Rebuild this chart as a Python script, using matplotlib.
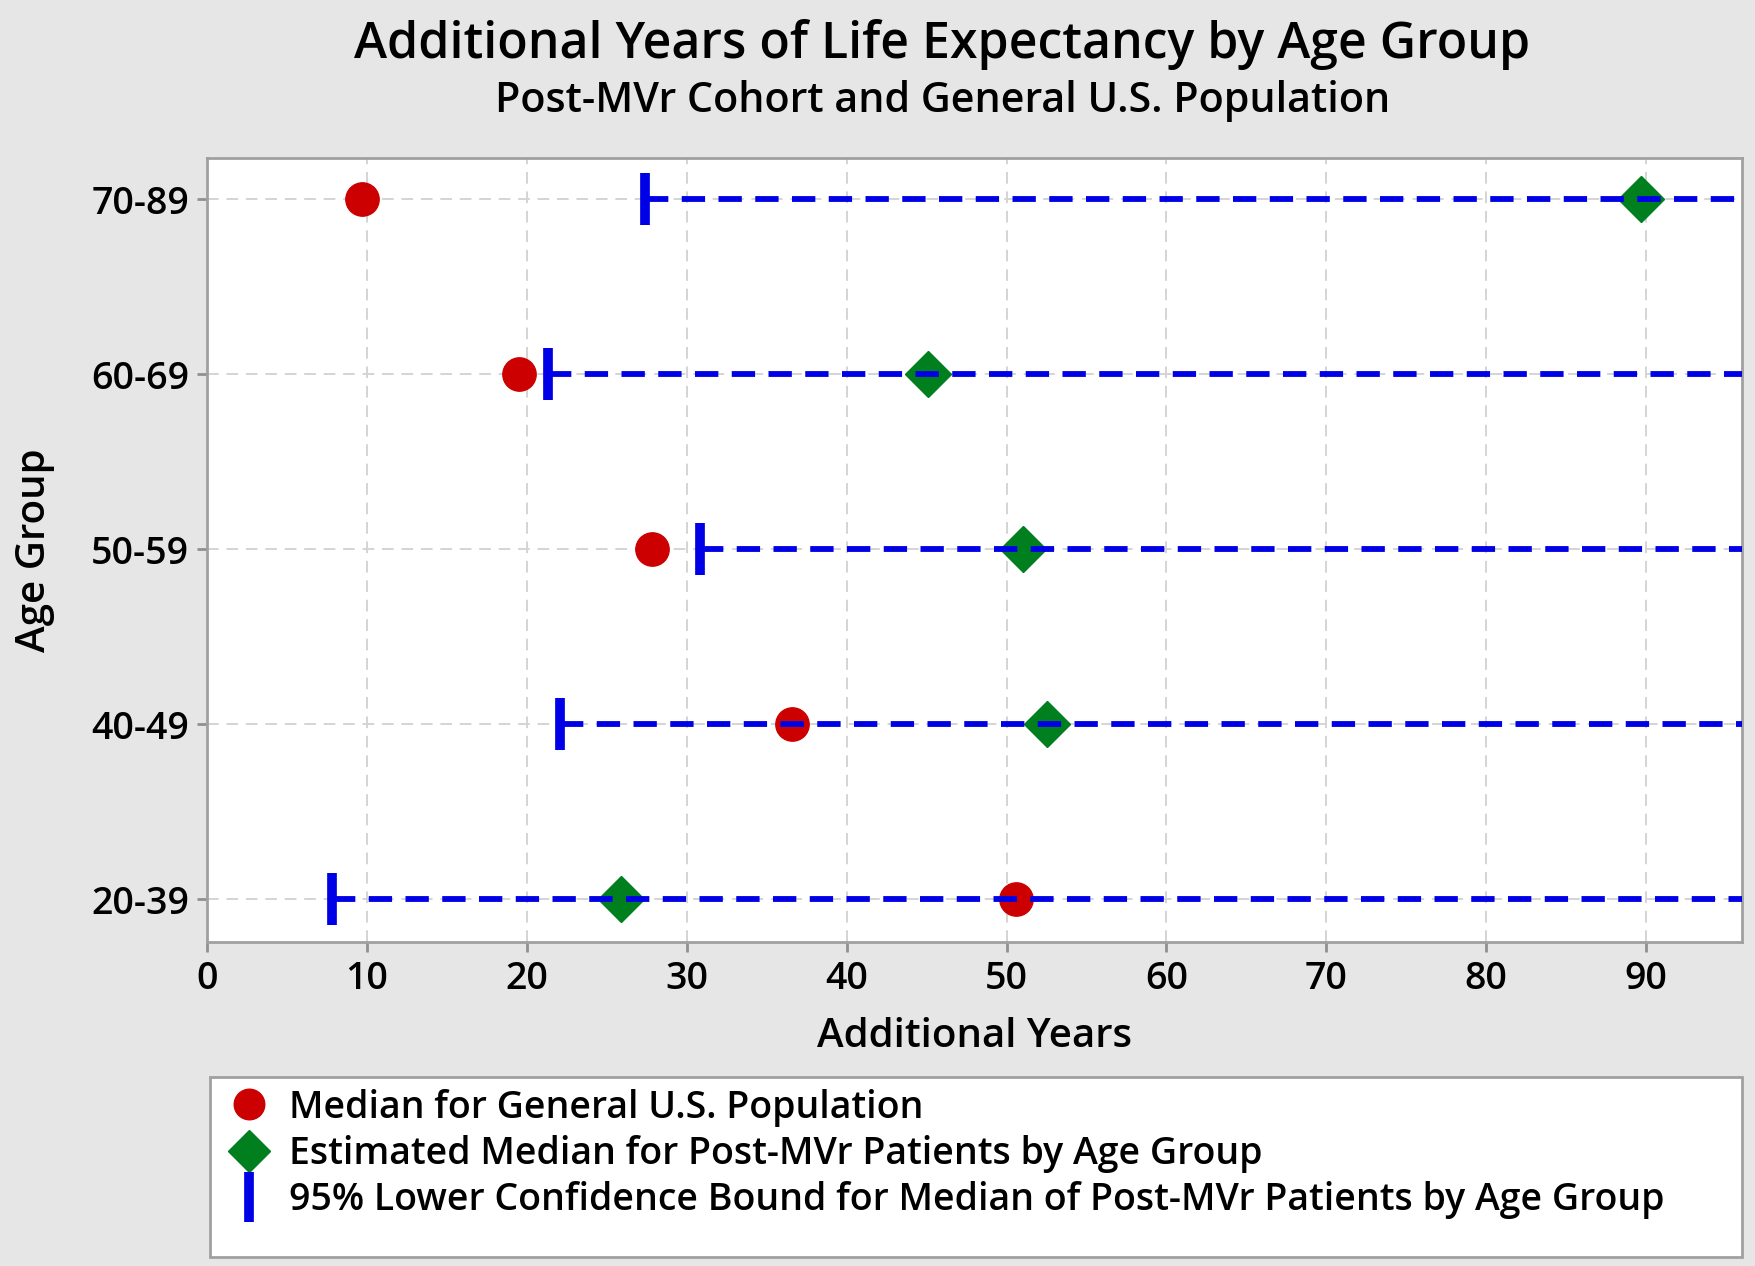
import matplotlib
matplotlib.use('Agg')
from matplotlib import pyplot as plt
from matplotlib.lines import Line2D
from matplotlib.patches import Rectangle

plt.rcParams['font.family'] = ['Open Sans', 'DejaVu Sans']
plt.rcParams['font.weight'] = 'semibold'
plt.rcParams['axes.labelweight'] = 'semibold'

# data
age_groups = ['20-39', '40-49', '50-59', '60-69', '70-89']
median_general = [50.6, 36.6, 27.8, 19.5, 9.7]
median_post_mvr = [25.9, 52.5, 51.0, 45.1, 89.7]
lower_bound = [7.8, 22.1, 30.8, 21.3, 27.4]
x_ticks = [0, 10, 20, 30, 40, 50, 60, 70, 80, 90]

X_MAX = 96
bg = '#e6e6e6'
blue = '#0000e6'
red = '#cc0000'
green = '#007f1f'

fig = plt.figure(figsize=(17.55, 12.66), dpi=100, facecolor=bg)
ax = fig.add_axes([0.118, 0.256, 0.8746, 0.619])
ax.set_facecolor('white')

ypos = list(range(1, len(age_groups) + 1))

# dashed lines from lower bound to the right edge
ax.hlines(ypos, lower_bound, X_MAX, colors=blue, linewidth=4.2,
          linestyles=(0, (4, 2.3)), zorder=4)
ax.plot(median_general, ypos, 'o', color=red, markersize=24, zorder=3, linestyle='none')
ax.plot(median_post_mvr, ypos, 'D', color=green, markersize=23, zorder=3, linestyle='none')
ax.plot(lower_bound, ypos, '|', color=blue, markersize=38, markeredgewidth=7, zorder=5, linestyle='none')

ax.set_xlim(0, X_MAX)
ax.set_ylim(0.755, 5.235)
ax.set_xticks(x_ticks)
ax.set_yticks(ypos)
ax.set_yticklabels(age_groups)
ax.grid(True, color='#d4d4d4', linestyle=(0, (6, 4)), linewidth=1.4, zorder=0)
ax.set_axisbelow(True)
for s in ax.spines.values():
    s.set_color('#a0a0a0')
    s.set_linewidth(2)
ax.tick_params(axis='both', colors='#909090', length=7, width=2, labelsize=27,
               labelcolor='black', pad=6)

ax.set_xlabel('Additional Years', fontsize=29, labelpad=14)
ax.set_ylabel('Age Group', fontsize=29, labelpad=26)

fig.text(0.537, 0.965, 'Additional Years of Life Expectancy by Age Group',
         ha='center', va='center', fontsize=36)
fig.text(0.537, 0.92, 'Post-MVr Cohort and General U.S. Population',
         ha='center', va='center', fontsize=29.7)

# legend box
fig.add_artist(Rectangle((0.1197, 0.0071), 0.8729, 0.1422, transform=fig.transFigure,
                         facecolor='white', edgecolor='#a0a0a0', linewidth=2))
handles = [
    Line2D([], [], marker='o', color=red, linestyle='none', markersize=22),
    Line2D([], [], marker='D', color=green, linestyle='none', markersize=21),
    Line2D([], [], marker='|', color=blue, linestyle='none', markersize=36, markeredgewidth=7),
]
labels = ['Median for General U.S. Population',
          'Estimated Median for Post-MVr Patients by Age Group',
          '95% Lower Confidence Bound for Median of Post-MVr Patients by Age Group']
fig.legend(handles, labels, loc='upper left', bbox_to_anchor=(0.121, 0.152),
           frameon=False, fontsize=27, handlelength=1.15, handletextpad=0.5,
           labelspacing=0.22, borderaxespad=0)

fig.savefig('out.png', dpi=100, facecolor=bg)
